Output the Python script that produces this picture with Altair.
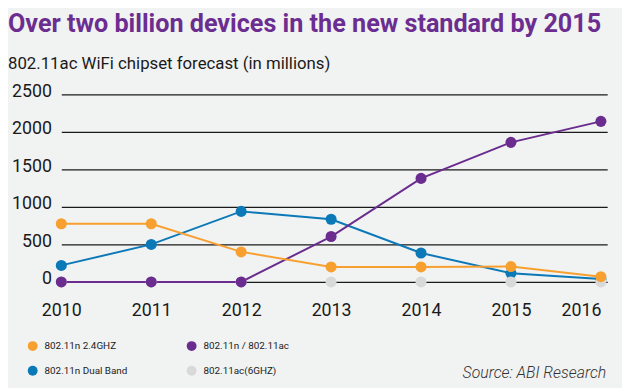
import altair as alt
import pandas as pd

years = [2010, 2011, 2012, 2013, 2014, 2015, 2016]
# legend order (filled column by column): 2.4GHZ, Dual Band | n/ac, ac(6GHZ)
series = ["802.11n 2.4GHZ", "802.11n Dual Band", "802.11n / 802.11ac", "802.11ac(6GHZ)"]
colors = ["#F7A030", "#0B78B8", "#6A2C8E", "#D9D9D9"]
n24 = [775, 775, 400, 200, 200, 205, 70]
dual = [220, 500, 940, 835, 385, 115, 40]
nac = [0, 0, 0, 605, 1380, 1860, 2140]
ac6 = [0, 0, 0, 0, 0, 0, 0]
y_ticks = [0, 500, 1000, 1500, 2000, 2500]

title_text = "Over two billion devices in the new standard by 2015"
subtitle_text = "802.11ac WiFi chipset forecast (in millions)"
source_text = "Source: ABI Research"

# draw order: blue, grey, purple, orange
rows = []
for z, (name, vals) in enumerate([(series[1], dual), (series[3], ac6), (series[2], nac), (series[0], n24)]):
    for yr, v in zip(years, vals):
        rows.append({"year": yr, "value": v, "series": name, "z": z})
df = pd.DataFrame(rows)

FONT = "Roboto, Liberation Sans, sans-serif"

legend = alt.Legend(
    orient="none", legendX=-34, legendY=250, columns=2, title=None,
    symbolType="circle", symbolSize=100, symbolStrokeWidth=0,
    labelFont=FONT, labelFontSize=10, labelColor="#222222", labelOffset=7,
    columnPadding=60, rowPadding=15,
)
color = alt.Color("series:N", scale=alt.Scale(domain=series, range=colors), legend=legend)

x = alt.X(
    "year:Q",
    scale=alt.Scale(domain=[2010, 2016.07], nice=False, zero=False),
    axis=alt.Axis(
        values=years, format="d", grid=False, domain=False, ticks=False,
        labelPadding=20, labelFontSize=18, labelFont=FONT, labelColor="#1a1a1a",
        labelAlign={"condition": {"test": "datum.value == 2016", "value": "right"}, "value": "center"},
        title=None,
    ),
)
y = alt.Y(
    "value:Q",
    scale=alt.Scale(domain=[0, 2500], nice=False),
    axis=alt.Axis(
        values=y_ticks, format="d", grid=True, gridColor="#1a1a1a", gridWidth=1.4, domain=False, ticks=False,
        labelPadding=10, labelFontSize=18, labelFont=FONT, labelColor="#1a1a1a",
        labelOffset=-3, title=None,
    ),
)

lines = alt.Chart(df).transform_filter(alt.datum.series != series[3]).mark_line(strokeWidth=2).encode(
    x=x, y=y, color=color, order=alt.Order("year:Q")
)
points = alt.Chart(df).mark_point(filled=True, size=125, opacity=1).encode(
    x=x, y=y, color=color, order=alt.Order("z:Q")
)

tdf = pd.DataFrame({"t": [title_text]})
title = alt.Chart(tdf).mark_text(
    align="left", baseline="alphabetic", font=FONT, fontSize=25.5, fontWeight="bold", color="#6B2D90"
).encode(text="t:N", x=alt.value(-54), y=alt.value(-63))

sdf = pd.DataFrame({"t": [subtitle_text]})
subtitle = alt.Chart(sdf).mark_text(
    align="left", baseline="alphabetic", font=FONT, fontSize=17, color="#1a1a1a"
).encode(text="t:N", x=alt.value(-54), y=alt.value(-26))

srcdf = pd.DataFrame({"t": [source_text]})
source = alt.Chart(srcdf).mark_text(
    align="right", baseline="alphabetic", font=FONT, fontSize=16, fontStyle="italic", fontWeight=300,
    color="#333333"
).encode(text="t:N", x=alt.value(552), y=alt.value(287))

chart = alt.layer(lines, points, title, subtitle, source).properties(
    width=553, height=190,
    autosize=alt.AutoSizeParams(type="none"),
    padding={"left": 54, "top": 85, "right": 15, "bottom": 105},
    background="#F1F2F2",
).configure_view(stroke=None)

chart.save("out.html", embed_options={"renderer": "svg", "actions": False})
